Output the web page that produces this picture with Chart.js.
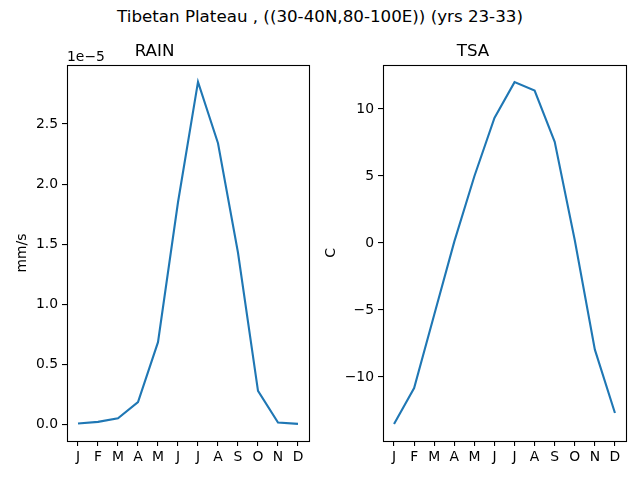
<!DOCTYPE html>
<html><head><meta charset="utf-8">
<script src="https://cdn.jsdelivr.net/npm/chart.js@4/dist/chart.umd.min.js"></script>
<style>
html,body{margin:0;padding:0;background:#fff;}
#wrap{position:relative;width:640px;height:480px;}
#sup{position:absolute;left:0;top:6px;width:640px;text-align:center;font:16.7px "DejaVu Sans";color:#000;}
canvas{position:absolute;top:0;}
</style></head>
<body><div id="wrap">
<div id="sup">Tibetan Plateau , ((30-40N,80-100E)) (yrs 23-33)</div>
<canvas id="c1" width="320" height="480" style="left:0;width:320px;height:480px"></canvas>
<canvas id="c2" width="320" height="480" style="left:320px;width:320px;height:480px"></canvas>
</div>
<script>
const months = ['J','F','M','A','M','J','J','A','S','O','N','D'];
const rainScale = 1e-5; // values below are in units of 1e-5 mm/s
const rain = [0.011, 0.025, 0.055, 0.19, 0.687, 1.85, 2.85, 2.34, 1.43, 0.283, 0.02, 0.008];
const tsa = [-13.5, -10.82, -5.35, 0.1, 4.98, 9.33, 12.0, 11.37, 7.54, 0.2, -7.96, -12.69];
const rainTicks = [0, 0.5, 1.0, 1.5, 2.0, 2.5];
const tsaTicks = [-10, -5, 0, 5, 10];

const FONT = 'DejaVu Sans';
const boxPlugin = {
  id: 'box',
  afterDraw(chart, args, opts) {
    const a = chart.chartArea, ctx = chart.ctx;
    ctx.save();
    ctx.strokeStyle = '#000';
    ctx.lineWidth = 1.1;
    ctx.strokeRect(Math.round(a.left)+0.5, Math.round(a.top)+0.5, Math.round(a.right-a.left), Math.round(a.bottom-a.top));
    if (opts && opts.offsetText) {
      ctx.fillStyle = '#000';
      ctx.font = '13.9px "' + FONT + '"';
      ctx.textAlign = 'left';
      ctx.textBaseline = 'bottom';
      ctx.fillText(opts.offsetText, a.left, a.top - 1);
    }
    ctx.restore();
  }
};

function fmt(v){ return (v < 0 ? '\u2212' : '') + Math.abs(v); }

function makeChart(id, title, ylabel, values, yTicks, ymin, ymax, yWidth, padRight, ylabelPad, tickFmt, offsetText) {
  return new Chart(document.getElementById(id), {
    type: 'line',
    data: { datasets: [{ data: values.map((v,i)=>({x:i,y:v})), borderColor:'#1f77b4', borderWidth:2.1, pointRadius:0, tension:0, fill:false }] },
    plugins: [boxPlugin],
    options: {
      responsive:false, animation:false, devicePixelRatio:1,
      layout:{ padding:{ left:0, right:padRight, top:0, bottom:0 } },
      plugins:{
        legend:{display:false}, tooltip:{enabled:false},
        title:{ display:true, text:title, color:'#000', font:{family:FONT, size:16.7, weight:'normal', lineHeight:1.2}, padding:{top:42,bottom:3} },
        box:{ offsetText: offsetText }
      },
      scales:{
        x:{
          type:'linear', min:-0.55, max:11.55,
          afterBuildTicks: s => { s.ticks = months.map((m,i)=>({value:i})); },
          afterFit: s => { s.height = 39; },
          ticks:{ callback:(v)=>months[v], color:'#000', font:{family:FONT,size:13.9}, padding:3, autoSkip:false, maxRotation:0 },
          grid:{ drawOnChartArea:false, drawTicks:true, tickLength:5, color:'#000', lineWidth:1.1 },
          border:{ display:false }
        },
        y:{
          type:'linear', min:ymin, max:ymax,
          afterBuildTicks: s => { s.ticks = yTicks.map(v=>({value:v})); },
          afterFit: s => { s.width = yWidth; },
          ticks:{ callback:tickFmt, color:'#000', font:{family:FONT,size:13.9}, padding:4 },
          grid:{ drawOnChartArea:false, drawTicks:true, tickLength:5, color:'#000', lineWidth:1.1 },
          border:{ display:false },
          title:{ display:true, text:ylabel, color:'#000', font:{family:FONT,size:13.9}, padding:{top:ylabelPad,bottom:0} }
        }
      }
    }
  });
}

makeChart('c1', 'RAIN', 'mm/s', rain, rainTicks, -0.134, 2.99, 67, 11, 14, v => v.toFixed(1), '1e\u22125');
makeChart('c2', 'TSA', 'C', tsa, tsaTicks, -14.775, 13.275, 63, 14, 3, v => fmt(v), null);
</script>
</body></html>
